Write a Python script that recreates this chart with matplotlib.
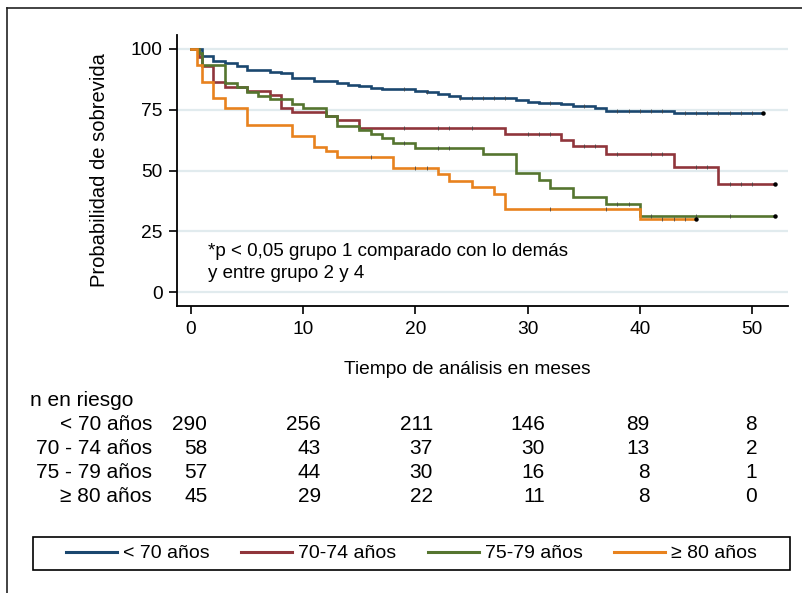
import numpy as np
import matplotlib
matplotlib.use("Agg")
import matplotlib.pyplot as plt
from matplotlib.lines import Line2D
from matplotlib.patches import Rectangle
from matplotlib.transforms import blended_transform_factory

plt.rcParams['font.family'] = ['Liberation Sans', 'DejaVu Sans']

# Kaplan-Meier step data (months, survival %)
t_lt70 = [0, 1, 2, 3, 4.1, 5, 7, 8, 9, 11, 13, 14, 15, 16, 17, 18, 20, 21, 22,
          23, 24, 29, 30, 31, 33, 34, 36, 37, 43]
s_lt70 = [100, 97.1, 95.1, 94.0, 93.0, 91.3, 90.3, 89.9, 88.2, 86.9, 85.9, 85.2,
          84.7, 84.1, 83.7, 83.3, 82.8, 82.1, 81.4, 80.6, 80.0, 79.1, 78.3, 77.7,
          77.2, 76.5, 75.7, 74.6, 73.8]
c_lt70 = [19, 21, 24, 25, 26, 27, 28, 32, 35, 38, 39, 40, 41, 42, 44, 45, 46, 47,
          48, 49, 50]
end_lt70 = 51

t_7074 = [0, 0.7, 1.0, 2, 3, 5, 7, 8, 9, 12, 13, 15, 28, 33, 34, 37, 43, 47]
s_7074 = [100, 96.6, 93.1, 86.2, 84.4, 82.8, 81.1, 75.7, 74.2, 72.5, 70.8, 67.5,
          65.0, 62.7, 60.2, 56.8, 51.6, 44.3]
c_7074 = [19, 22, 23, 25, 30, 31, 32, 35, 36, 38, 41, 42, 45, 46, 48, 49, 50]
end_7074 = 52

t_7579 = [0, 0.7, 1.0, 3, 4.1, 5, 6, 7, 9, 10, 12, 13, 15, 16, 17, 18, 20, 26,
          29, 31, 32, 34, 37, 40]
s_7579 = [100, 98.2, 93.3, 85.9, 84.2, 82.4, 80.6, 79.4, 77.3, 75.7, 72.3, 68.4,
          66.8, 65.0, 63.4, 61.4, 59.3, 56.8, 49.0, 45.9, 42.9, 39.3, 36.1, 31.3]
c_7579 = [19, 22, 23, 38, 39, 41, 45, 48]
end_7579 = 52

t_ge80 = [0, 0.5, 1.0, 2.0, 3.0, 5.0, 9.0, 11.0, 12.0, 13.0, 18.0, 22.0, 23.0,
          25.0, 27.0, 28.0, 40.0]
s_ge80 = [100, 93.3, 86.5, 79.8, 75.7, 68.7, 64.3, 59.8, 57.9, 55.7, 51.1, 48.4,
          45.6, 43.2, 40.4, 34.0, 29.9]
c_ge80 = [16, 20, 21, 32, 37, 42, 43, 44]
end_ge80 = 45

group_labels = ['< 70 años', '70-74 años', '75-79 años', '\u2265 80 años']
colors = ['#1a476f', '#90353b', '#55752f', '#e8821e']

# number at risk table
risk_times = [0, 10, 20, 30, 40, 50]
risk_rows = ['< 70 años', '70 - 74 años', '75 - 79 años', '\u2265 80 años']
risk_lt70 = [290, 256, 211, 146, 89, 8]
risk_7074 = [58, 43, 37, 30, 13, 2]
risk_7579 = [57, 44, 30, 16, 8, 1]
risk_ge80 = [45, 29, 22, 11, 8, 0]

W, H = 803, 593
fig = plt.figure(figsize=(W / 100, H / 100), dpi=100)
ax = fig.add_axes([177 / W, 1 - 306 / H, (788 - 177) / W, (306 - 35) / H])

curves = [
    (t_lt70, s_lt70, c_lt70, end_lt70),
    (t_7074, s_7074, c_7074, end_7074),
    (t_7579, s_7579, c_7579, end_7579),
    (t_ge80, s_ge80, c_ge80, end_ge80),
]

for yv in [0, 25, 50, 75, 100]:
    ax.axhline(yv, color='#e1ebee', lw=1.6, zorder=0)

for (t, s, cens, tend), col, lab in zip(curves, colors, group_labels):
    tt = np.append(t, tend)
    ss = np.append(s, s[-1])
    ax.step(tt, ss, where='post', color=col, lw=1.9, label=lab, zorder=2,
            solid_joinstyle='miter')
    # censoring ticks
    idx = np.searchsorted(t, cens, side='right') - 1
    cy = np.array(s)[idx]
    ax.plot(cens, cy, ls='none', marker='|', ms=2.4, mew=0.7, color='#444444',
            alpha=0.8, zorder=3)
    ax.plot([tend], [s[-1]], ls='none', marker='o', ms=2.2, color='black',
            zorder=3)

ax.set_xlim(-1.25, 53.2)
ax.set_ylim(-5.7, 105.7)
ax.set_xticks([0, 10, 20, 30, 40, 50])
ax.set_yticks([0, 25, 50, 75, 100])
ax.tick_params(axis='both', direction='out', length=5.5, width=1.2,
               labelsize=13.8, pad=5, colors='black')
for side in ['top', 'right']:
    ax.spines[side].set_visible(False)
for side in ['left', 'bottom']:
    ax.spines[side].set_linewidth(1.3)

ax.set_ylabel('Probabilidad de sobrevida', fontsize=14.5)
ax.yaxis.set_label_coords((100 - 177) / (788 - 177), 0.5)
ax.set_xlabel('Tiempo de análisis en meses', fontsize=13.8)
ax.xaxis.set_label_coords((467 - 177) / (788 - 177), -(369 - 306) / (306 - 35))
ax.xaxis.label.set_va('center')
ax.yaxis.label.set_va('center')

ax.text(1.5, 16.8, '*p < 0,05 grupo 1 comparado con lo demás', fontsize=13.5,
        ha='left', va='center')
ax.text(1.5, 7.8, 'y entre grupo 2 y 4', fontsize=13.5, ha='left', va='center')

# at-risk table
tr = blended_transform_factory(ax.transData, fig.transFigure)
fs_tab = 15
fig.text(30 / W, 1 - 400 / H, 'n en riesgo', fontsize=fs_tab, ha='left',
         va='center')
row_y = [424, 448, 472, 497]
offsets = [1.45, 1.55, 1.55, 1.55, 0.85, 0.45]
for lab, vals, yp in zip(risk_rows,
                         [risk_lt70, risk_7074, risk_7579, risk_ge80], row_y):
    fig.text(152 / W, 1 - yp / H, lab, fontsize=fs_tab, ha='right', va='center')
    for x, v, off in zip(risk_times, vals, offsets):
        ax.text(x + off, 1 - yp / H, str(v), transform=tr, fontsize=fs_tab,
                ha='right', va='center', clip_on=False)

# legend, box drawn separately
fig.add_artist(Rectangle((33 / W, 1 - 570 / H), (790 - 33) / W, 33 / H,
                         transform=fig.transFigure, fill=False,
                         edgecolor='black', lw=1.2))
leg = fig.legend(loc='center', bbox_to_anchor=(411.5 / W, 1 - 553.5 / H),
                 ncol=4, frameon=False, fontsize=14,
                 handlelength=2.65, handletextpad=0.3, columnspacing=1.6,
                 borderaxespad=0, borderpad=0)
for h in leg.get_lines():
    h.set_linewidth(2.2)

# outer frame (top and left edges visible in the crop)
fig.add_artist(Line2D([7 / W, 7 / W], [0, 1 - 8 / H], color='#222222', lw=1.2,
                      transform=fig.transFigure))
fig.add_artist(Line2D([7 / W, 1], [1 - 8 / H, 1 - 8 / H], color='#222222', lw=1.2,
                      transform=fig.transFigure))

fig.savefig('out.png', dpi=100, facecolor='white')
